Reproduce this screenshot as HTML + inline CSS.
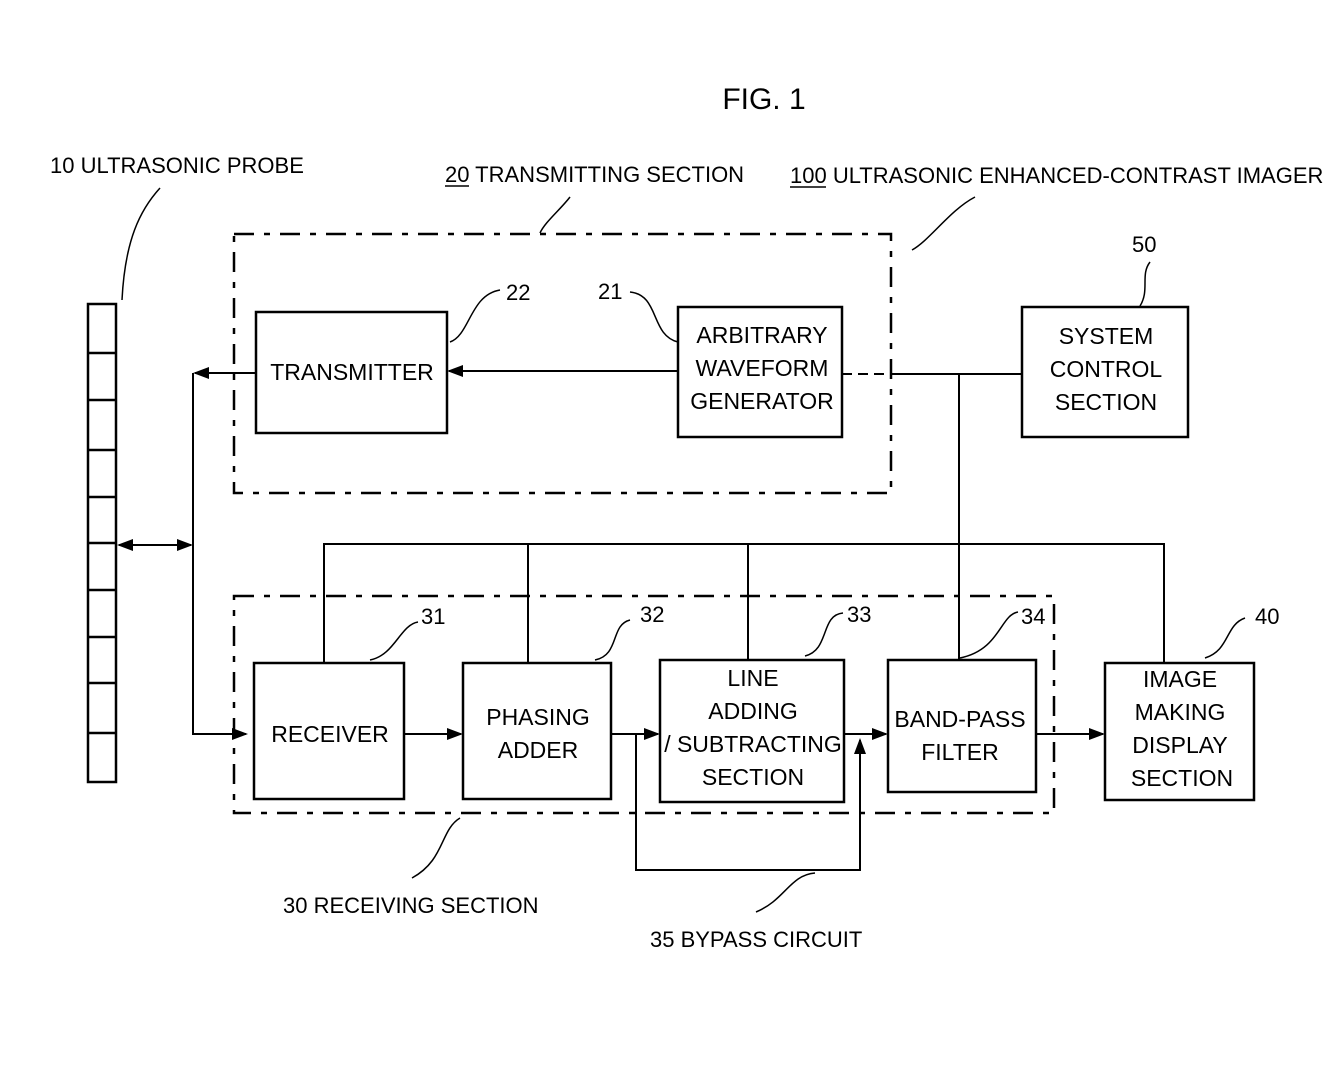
<!DOCTYPE html>
<html><head><style>body{margin:0;background:#fff}svg{display:block}text{font-family:"Liberation Sans",sans-serif;fill:#000}</style></head><body>
<svg width="1344" height="1074" viewBox="0 0 1344 1074" xmlns="http://www.w3.org/2000/svg">
<defs><marker id="a" markerWidth="16" markerHeight="12" refX="14" refY="6" orient="auto" markerUnits="userSpaceOnUse"><path d="M0,0L16,6L0,12z" fill="#000"/></marker>
<marker id="b" markerWidth="16" markerHeight="12" refX="2" refY="6" orient="auto" markerUnits="userSpaceOnUse"><path d="M16,0L0,6L16,12z" fill="#000"/></marker></defs>
<g fill="none" stroke="#000" stroke-width="2.5">
<rect x="234" y="234" width="657" height="259" stroke-dasharray="20,10,6,10"/>
<rect x="234" y="596" width="820" height="217" stroke-dasharray="20,10,6,10"/>
<rect x="88" y="304" width="28" height="478"/>
<path d="M88 353H116M88 400H116M88 450H116M88 497H116M88 543H116M88 590H116M88 637H116M88 683H116M88 733H116"/>
<rect x="256" y="312" width="191" height="121"/>
<rect x="678" y="307" width="164" height="130"/>
<rect x="1022" y="307" width="166" height="130"/>
<rect x="254" y="663" width="150" height="136"/>
<rect x="463" y="663" width="148" height="136"/>
<rect x="660" y="660" width="184" height="142"/>
<rect x="888" y="660" width="148" height="132"/>
<rect x="1105" y="663" width="149" height="137"/>
</g>
<g fill="none" stroke="#000" stroke-width="2">
<path d="M678 371H449" marker-end="url(#a)"/>
<path d="M256 373H195" marker-end="url(#a)"/>
<path d="M193 373V734H246" marker-end="url(#a)"/>
<path d="M119 545H191" marker-start="url(#b)" marker-end="url(#a)"/>
<path d="M404 734H461" marker-end="url(#a)"/>
<path d="M611 734H658" marker-end="url(#a)"/>
<path d="M844 734H886" marker-end="url(#a)"/>
<path d="M1036 734H1103" marker-end="url(#a)"/>
<path d="M636 734V870H860V740" marker-end="url(#a)"/>
<path d="M842 374H891" stroke-dasharray="10,6"/>
<path d="M891 374H1022"/>
<path d="M959 374V660"/>
<path d="M324 663V544H1164V663M528 544V663M748 544V660"/>
<path d="M160 188C140 210 125 240 122 300" stroke-width="1.5"/>
<path d="M570 197C560 210 545 222 540 233" stroke-width="1.5"/>
<path d="M975 197C950 210 930 240 912 250" stroke-width="1.5"/>
<path d="M1150 262C1140 275 1150 290 1140 306" stroke-width="1.5"/>
<path d="M500 290C470 295 470 335 450 342" stroke-width="1.5"/>
<path d="M630 292C660 295 650 335 678 342" stroke-width="1.5"/>
<path d="M418 622C400 625 395 655 370 660" stroke-width="1.5"/>
<path d="M630 620C610 625 620 655 595 660" stroke-width="1.5"/>
<path d="M843 613C820 615 830 650 805 656" stroke-width="1.5"/>
<path d="M1018 612C1000 615 1000 650 960 658" stroke-width="1.5"/>
<path d="M1245 618C1225 625 1230 650 1205 658" stroke-width="1.5"/>
<path d="M460 818C440 830 445 860 412 878" stroke-width="1.5"/>
<path d="M815 873C790 875 785 900 756 912" stroke-width="1.5"/>
</g>
<text x="764" y="109" font-size="30" text-anchor="middle">FIG. 1</text>
<g font-size="22">
<text x="50" y="173">10 ULTRASONIC PROBE</text>
<text x="445" y="182">20 TRANSMITTING SECTION</text>
<text x="790" y="183">100 ULTRASONIC ENHANCED-CONTRAST IMAGER</text>
<text x="283" y="913">30 RECEIVING SECTION</text>
<text x="650" y="947">35 BYPASS CIRCUIT</text>
<text x="1132" y="252">50</text><text x="506" y="300">22</text><text x="598" y="299">21</text>
<text x="421" y="624">31</text><text x="640" y="622">32</text><text x="847" y="622">33</text><text x="1021" y="624">34</text><text x="1255" y="624">40</text>
</g>
<path d="M445 186H469M790 187H826" stroke="#000" stroke-width="1.5"/>
<g font-size="23" text-anchor="middle">
<text x="352" y="380">TRANSMITTER</text>
<text x="762" y="343">ARBITRARY</text><text x="762" y="376">WAVEFORM</text><text x="762" y="409">GENERATOR</text>
<text x="1106" y="344">SYSTEM</text><text x="1106" y="377">CONTROL</text><text x="1106" y="410">SECTION</text>
<text x="330" y="742">RECEIVER</text>
<text x="538" y="725">PHASING</text><text x="538" y="758">ADDER</text>
<text x="753" y="686">LINE</text><text x="753" y="719">ADDING</text><text x="753" y="752">/ SUBTRACTING</text><text x="753" y="785">SECTION</text>
<text x="960" y="727">BAND-PASS</text><text x="960" y="760">FILTER</text>
<text x="1180" y="687">IMAGE</text><text x="1180" y="720">MAKING</text><text x="1180" y="753">DISPLAY</text><text x="1182" y="786">SECTION</text>
</g>
</svg>
</body></html>
